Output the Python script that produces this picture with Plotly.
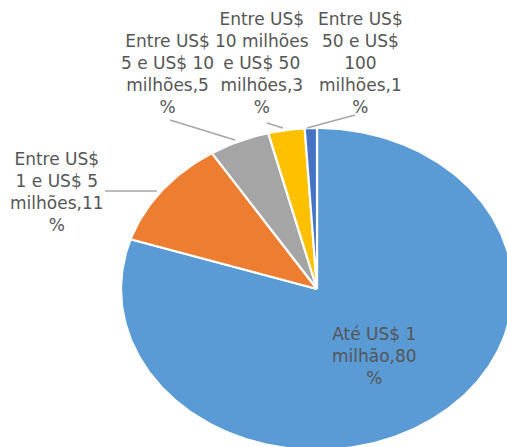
import textwrap
import numpy as np
import plotly.graph_objects as go

# Faixas de receita e participação (%)
categories = [
    "Até US$ 1 milhão",
    "Entre US$ 1 e US$ 5 milhões",
    "Entre US$ 5 e US$ 10 milhões",
    "Entre US$ 10 milhões e US$ 50 milhões",
    "Entre US$ 50 e US$ 100 milhões",
]
values = [80, 11, 5, 3, 1]
colors = ["#5B9BD5", "#ED7D31", "#A5A5A5", "#FFC000", "#4472C4"]

W, H = 507, 447
CX, CY = 317, 289          # pie centre (px)
RX, RY = 196, 161          # horizontal / vertical radius (px)

# label centres (px) and leader lines (px)
label_pos = [(374, 356), (57, 192), (167, 74), (262, 63), (360, 63)]
leaders = [None, ((105, 191), (157, 191)), ((170, 120), (235, 140)),
           ((267, 123), (283, 128)), ((355, 115), (307, 128))]

fig = go.Figure()

total = float(sum(values))
cum = np.concatenate([[0.0], np.cumsum(values) / total])
for i, (name, v, c) in enumerate(zip(categories, values, colors)):
    a0 = np.pi / 2 - 2 * np.pi * cum[i]
    a1 = np.pi / 2 - 2 * np.pi * cum[i + 1]
    t = np.linspace(a0, a1, max(8, int(400 * v / total)))
    xs = np.concatenate([[0.0], np.cos(t), [0.0]])
    ys = np.concatenate([[0.0], np.sin(t), [0.0]])
    fig.add_trace(go.Scatter(
        x=xs, y=ys, mode="lines", fill="toself", fillcolor=c,
        line=dict(color="white", width=2.2), hoverinfo="skip",
        showlegend=False, name=name))


def px_to_paper(px, py):
    return px / W, 1 - py / H


for name, v, (lx, ly), ld in zip(categories, values, label_pos, leaders):
    text = "<br>".join(textwrap.wrap(f"{name},{v} %", width=10,
                                     break_long_words=False))
    x, y = px_to_paper(lx, ly)
    fig.add_annotation(x=x, y=y, xref="paper", yref="paper", text=text,
                       showarrow=False, xanchor="center", yanchor="middle",
                       align="center",
                       font=dict(family="DejaVu Sans", size=17, color="#555555"))
    if ld is not None:
        (x0, y0), (x1, y1) = ld
        p0, p1 = px_to_paper(x0, y0), px_to_paper(x1, y1)
        fig.add_shape(type="line", xref="paper", yref="paper",
                      x0=p0[0], y0=p0[1], x1=p1[0], y1=p1[1],
                      line=dict(color="#A6A6A6", width=1.5))

fig.update_xaxes(range=[-CX / RX, (W - CX) / RX], visible=False, fixedrange=True)
fig.update_yaxes(range=[-(H - CY) / RY, CY / RY], visible=False, fixedrange=True)
fig.update_layout(width=W, height=H, margin=dict(l=0, r=0, t=0, b=0),
                  paper_bgcolor="white", plot_bgcolor="white", showlegend=False)

fig.write_html("out.html")
